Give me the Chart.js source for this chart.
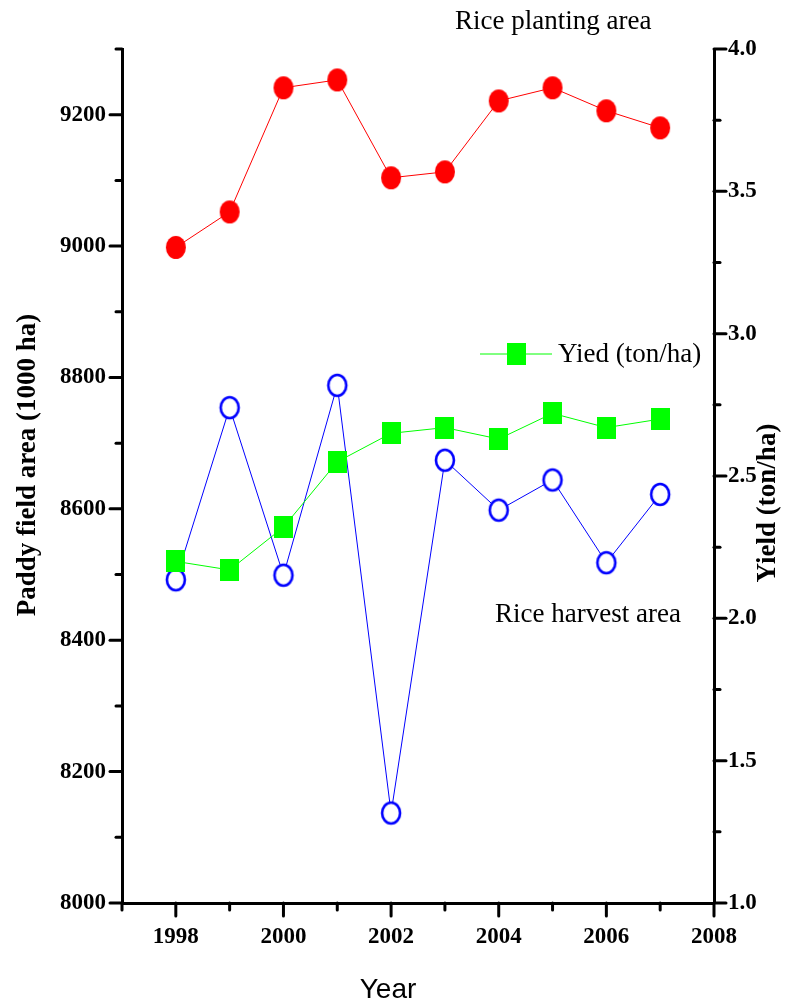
<!DOCTYPE html>
<html>
<head>
<meta charset="utf-8">
<title>Paddy field area and yield</title>
<script src="https://cdn.jsdelivr.net/npm/chart.js@4.4.1/dist/chart.umd.min.js"></script>
<style>
    body { margin: 0; background: #fff; }
    #wrap { width: 785px; height: 1008px; }
</style>
</head>
<body>
<div id="wrap"><canvas id="grafico" width="785" height="1008"></canvas></div>
<script>
const anos = [1998, 1999, 2000, 2001, 2002, 2003, 2004, 2005, 2006, 2007];
const areaPlantio = [8998, 9052, 9241, 9253, 9104, 9113, 9221, 9241, 9206, 9180];
const areaColheita = [8492, 8754, 8499, 8788, 8137, 8674, 8598, 8644, 8518, 8622];
const rendimento = [2.20, 2.17, 2.32, 2.55, 2.65, 2.67, 2.63, 2.72, 2.67, 2.70];

const ticksAno = [1998, 2000, 2002, 2004, 2006, 2008];
const ticksArea = [8000, 8200, 8400, 8600, 8800, 9000, 9200];
const ticksRend = [1.0, 1.5, 2.0, 2.5, 3.0, 3.5, 4.0];

const serif = "'Liberation Serif', 'Times New Roman', serif";
const sans = "'Liberation Sans', Arial, sans-serif";

// marcadores (elipses um pouco altas, como no original)
function marcador(w, h, desenhar) {
    const c = document.createElement('canvas');
    c.width = w; c.height = h;
    desenhar(c.getContext('2d'), w, h);
    return c;
}
const bolaVermelha = marcador(22, 25, (ctx, w, h) => {
    ctx.fillStyle = '#ff0000';
    ctx.beginPath();
    ctx.ellipse(w / 2, h / 2, 10, 11.5, 0, 0, Math.PI * 2);
    ctx.fill();
});
const anelAzul = marcador(24, 27, (ctx, w, h) => {
    ctx.fillStyle = '#ffffff';
    ctx.strokeStyle = '#0000ff';
    ctx.lineWidth = 2.6;
    ctx.beginPath();
    ctx.ellipse(w / 2, h / 2, 9, 10.5, 0, 0, Math.PI * 2);
    ctx.fill();
    ctx.stroke();
});
const quadradoVerde = marcador(19, 22, (ctx, w, h) => {
    ctx.fillStyle = '#00ff00';
    ctx.fillRect(0, 0, w, h);
});

function pares(ys) {
    return anos.map((a, i) => ({ x: a, y: ys[i] }));
}

// tracinhos dos eixos: maiores nos rótulos, menores entre eles
const pluginTicks = {
    id: 'ticks',
    afterDraw(chart) {
        const ctx = chart.ctx;
        ctx.save();
        ctx.strokeStyle = '#000';
        ctx.lineWidth = 3;
        ctx.lineCap = 'round';
        const sx = chart.scales.x, sy = chart.scales.y, sy2 = chart.scales.y2;
        sx.ticks.forEach(t => {
            const px = sx.getPixelForValue(t.value);
            const len = ticksAno.includes(t.value) ? 13 : 7;
            ctx.beginPath();
            ctx.moveTo(px, sx.top);
            ctx.lineTo(px, sx.top + len);
            ctx.stroke();
        });
        sy.ticks.forEach(t => {
            const py = sy.getPixelForValue(t.value);
            const len = ticksArea.includes(t.value) ? 12 : 6;
            ctx.beginPath();
            ctx.moveTo(sy.right, py);
            ctx.lineTo(sy.right - len, py);
            ctx.stroke();
        });
        sy2.ticks.forEach(t => {
            const py = sy2.getPixelForValue(t.value);
            const len = ticksRend.some(v => Math.abs(v - t.value) < 1e-6) ? 12 : 6;
            ctx.beginPath();
            ctx.moveTo(sy2.left, py);
            ctx.lineTo(sy2.left + len, py);
            ctx.stroke();
        });
        ctx.restore();
    }
};

// títulos, legenda e anotações
const pluginTextos = {
    id: 'textos',
    afterDraw(chart) {
        const ctx = chart.ctx;
        ctx.save();
        ctx.fillStyle = '#000';
        ctx.textBaseline = 'middle';

        ctx.font = `27px ${serif}`;
        ctx.textAlign = 'left';
        ctx.fillText('Rice planting area', 455, 22);
        ctx.fillText('Rice harvest area', 495, 615);

        // legenda do rendimento
        const ds = chart.data.datasets[0];
        ctx.strokeStyle = ds.borderColor;
        ctx.lineWidth = 1;
        ctx.beginPath();
        ctx.moveTo(480, 354);
        ctx.lineTo(552, 354);
        ctx.stroke();
        ctx.drawImage(quadradoVerde, 516 - quadradoVerde.width / 2, 354 - quadradoVerde.height / 2);
        ctx.fillText(ds.label, 558, 355);

        ctx.font = `28px ${sans}`;
        ctx.textAlign = 'center';
        ctx.fillText('Year', 388, 990);

        ctx.font = `bold 27px ${serif}`;
        ctx.translate(28, 465);
        ctx.rotate(-Math.PI / 2);
        ctx.fillText('Paddy field area (1000 ha)', 0, 0);
        ctx.setTransform(1, 0, 0, 1, 0, 0);
        ctx.translate(768, 503);
        ctx.rotate(-Math.PI / 2);
        ctx.fillText('Yield (ton/ha)', 0, 0);
        ctx.restore();
    }
};

const fonteTick = { family: serif, size: 23, weight: 'bold' };

new Chart(document.getElementById('grafico'), {
    type: 'line',
    data: {
        datasets: [
            {
                label: 'Yied (ton/ha)',
                data: pares(rendimento),
                yAxisID: 'y2',
                borderColor: '#00ff00',
                borderWidth: 1,
                pointStyle: quadradoVerde,
                tension: 0
            },
            {
                label: 'Rice harvest area',
                data: pares(areaColheita),
                yAxisID: 'y',
                borderColor: '#0000ff',
                borderWidth: 1,
                pointStyle: anelAzul,
                tension: 0
            },
            {
                label: 'Rice planting area',
                data: pares(areaPlantio),
                yAxisID: 'y',
                borderColor: '#ff0000',
                borderWidth: 1,
                pointStyle: bolaVermelha,
                tension: 0
            }
        ]
    },
    options: {
        responsive: false,
        animation: false,
        events: [],
        layout: { padding: { top: 49, left: 0, right: 0, bottom: 0 } },
        plugins: { legend: { display: false }, tooltip: { enabled: false } },
        scales: {
            x: {
                type: 'linear',
                min: 1997,
                max: 2008,
                border: { display: true, color: '#000', width: 3 },
                grid: { drawOnChartArea: false, drawTicks: true, tickLength: 13, tickColor: 'rgba(0,0,0,0)' },
                ticks: {
                    stepSize: 1,
                    autoSkip: false,
                    maxRotation: 0,
                    padding: 7,
                    color: '#000',
                    font: fonteTick,
                    callback: v => ticksAno.includes(v) ? String(v) : ''
                },
                afterFit: s => { s.height = 105; }
            },
            y: {
                position: 'left',
                min: 8000,
                max: 9300,
                border: { display: true, color: '#000', width: 3 },
                grid: { drawOnChartArea: false, drawTicks: true, tickLength: 12, tickColor: 'rgba(0,0,0,0)' },
                ticks: {
                    stepSize: 100,
                    autoSkip: false,
                    padding: 4,
                    color: '#000',
                    font: fonteTick,
                    callback: v => ticksArea.includes(v) ? String(v) : ''
                },
                afterFit: s => { s.width = 122; }
            },
            y2: {
                position: 'right',
                min: 1.0,
                max: 4.0,
                border: { display: true, color: '#000', width: 3 },
                grid: { drawOnChartArea: false, drawTicks: true, tickLength: 12, tickColor: 'rgba(0,0,0,0)' },
                ticks: {
                    stepSize: 0.25,
                    autoSkip: false,
                    padding: 2,
                    color: '#000',
                    font: fonteTick,
                    callback: v => ticksRend.some(t => Math.abs(t - v) < 1e-6) ? v.toFixed(1) : ''
                },
                afterFit: s => { s.width = 71; }
            }
        }
    },
    plugins: [pluginTicks, pluginTextos]
});
</script>
</body>
</html>
